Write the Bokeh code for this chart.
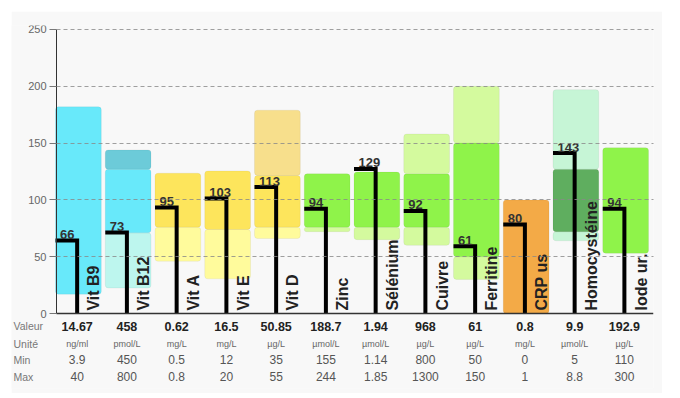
import math
from bokeh.plotting import figure
from bokeh.models import Range1d, FixedTicker, Label, ColumnDataSource
from bokeh.core.properties import value
from bokeh.embed import file_html
from bokeh.resources import INLINE

# ---------------- data ----------------
categories = ["Vit B9", "Vit B12", "Vit A", "Vit E", "Vit D", "Zinc", "Sélénium",
              "Cuivre", "Ferritine", "CRP us", "Homocystéine", "Iode ur."]
scores = [66, 73, 95, 103, 113, 94, 129, 92, 61, 80, 143, 94]
valeur = ["14.67", "458", "0.62", "16.5", "50.85", "188.7", "1.94", "968", "61", "0.8", "9.9", "192.9"]
unite = ["ng/ml", "pmol/L", "mg/L", "mg/L", "µg/L", "µmol/L", "µmol/L", "µg/L", "µg/L", "mg/L", "µmol/L", "µg/L"]
min_vals = ["3.9", "450", "0.5", "12", "35", "155", "1.14", "800", "50", "0", "5", "110"]
max_vals = ["40", "800", "0.8", "20", "55", "244", "1.85", "1300", "150", "1", "8.8", "300"]
row_names = ["Valeur", "Unité", "Min", "Max"]
y_ticks = [0, 50, 100, 150, 200, 250]

# zone bands (category index, bottom, top, colour)
band_cat = [0, 1, 1, 1, 2, 2, 3, 3, 4, 4, 4, 5, 5, 6, 6, 7, 7, 7, 8, 8, 8, 9, 10, 10, 10, 11]
band_bottom = [17, 22.5, 71, 127, 46, 76, 30.5, 74, 66, 76, 121.5, 72, 76, 65, 76, 60, 76, 123,
               30, 50, 150, 0, 64, 72, 127, 53]
band_top = [182, 71, 127, 144, 76, 123.5, 74, 125.5, 76, 121.5, 179, 76, 123, 76, 124.5, 76, 123, 158,
            50, 150, 200, 100, 72, 127, 197, 146]
CYAN, AQUA, TEAL = "#68e9fa", "#bdf6ee", "#6ccbd9"
YEL, LYEL, TAN = "#fde55c", "#fffb9c", "#f7df8c"
GRN, LGRN = "#8ff34a", "#d4fa9e"
ORG, MINT, DGRN = "#f3aa47", "#c6f5d6", "#5fae5f"
band_color = [CYAN, AQUA, CYAN, TEAL, LYEL, YEL, LYEL, YEL, LYEL, YEL, TAN, LGRN, GRN, LGRN, GRN,
              LGRN, GRN, LGRN, LGRN, GRN, LGRN, ORG, MINT, DGRN, MINT, GRN]

# ---------------- layout constants ----------------
N = len(categories)
BAND_L, BAND_R = -0.02, 0.9
STEM = 0.415
LINE_HALF = 1.7
row_y = [-11.4, -26.6, -40.5, -55.5]
FONT = "Liberation Sans"
X_LEFT = -45 / 49.75  # room for the row labels and y tick labels inside the frame

p = figure(width=651, height=382, output_backend="svg", toolbar_location=None,
           x_range=Range1d(X_LEFT, N), y_range=Range1d(-66, 253.5),
           min_border_left=0, min_border_right=9, min_border_top=14, min_border_bottom=5,
           background_fill_color="#f8f8f8", border_fill_color="#f8f8f8",
           outline_line_color=None)
p.margin = (11, 0, 0, 11)

# bands
bsrc = ColumnDataSource(dict(
    left=[c + BAND_L for c in band_cat], right=[c + BAND_R for c in band_cat],
    bottom=band_bottom, top=band_top, color=band_color))
p.quad(left="left", right="right", bottom="bottom", top="top", fill_color="color",
       line_color="#000000", line_alpha=0.05, border_radius=3, source=bsrc)

# markers
xs = [[i + BAND_L, i + STEM, i + STEM] for i in range(N)]
ys = [[s - LINE_HALF, s - LINE_HALF, 0] for s in scores]
p.multi_line(xs=xs, ys=ys, line_color="#000000", line_width=4, line_join="miter")

# score labels
p.text(x=[i + 0.07 for i in range(N)], y=scores, text=[str(s) for s in scores],
       text_baseline="alphabetic", text_align="left", y_offset=-4,
       text_font=value(FONT), text_font_style="bold", text_font_size="13px", text_color="#333333")

# category labels (rotated)
p.text(x=[i + 0.75 for i in range(N)], y=[2.6] * N, text=categories,
       angle=math.pi / 2, text_align="left", text_baseline="middle",
       text_font=value(FONT), text_font_style="bold", text_font_size="16px", text_color="#222222")

# table
cx = [i + STEM for i in range(N)]
p.text(x=cx, y=[row_y[0]] * N, text=valeur, text_align="center", text_baseline="middle",
       text_font=value(FONT), text_font_style="bold", text_font_size="12.5px", text_color="#222222")
p.text(x=cx, y=[row_y[1]] * N, text=unite, text_align="center", text_baseline="middle",
       text_font=value(FONT), text_font_size="9px", text_color="#666666")
p.text(x=cx, y=[row_y[2]] * N, text=min_vals, text_align="center", text_baseline="middle",
       text_font=value(FONT), text_font_size="12px", text_color="#555555")
p.text(x=cx, y=[row_y[3]] * N, text=max_vals, text_align="center", text_baseline="middle",
       text_font=value(FONT), text_font_size="12px", text_color="#555555")
for name, yy in zip(row_names, row_y):
    p.add_layout(Label(x=2, y=yy, x_units="screen", y_units="data", text=name,
                       text_baseline="middle", text_font=FONT, text_font_size="10.5px",
                       text_color="#777777"))

# x axis used as the baseline at 0
p.xaxis.fixed_location = 0
p.xaxis.bounds = (0, N)
p.xaxis.ticker = FixedTicker(ticks=[])
p.xaxis.axis_line_color = "#333333"
p.xaxis.axis_line_width = 1.5
p.xaxis.major_label_text_font_size = "0px"
p.xaxis.major_tick_line_color = None
p.xaxis.minor_tick_line_color = None
p.xgrid.visible = False

# y axis at x = 0
p.yaxis.fixed_location = 0
p.yaxis.ticker = FixedTicker(ticks=y_ticks)
p.yaxis.bounds = (0, 250)
p.yaxis.axis_line_color = "#333333"
p.yaxis.major_tick_line_color = "#777777"
p.yaxis.major_tick_out = 7
p.yaxis.major_tick_in = 0
p.yaxis.minor_tick_line_color = None
p.yaxis.major_label_text_font = FONT
p.yaxis.major_label_text_font_size = "11px"
p.yaxis.major_label_text_color = "#666666"
p.yaxis.major_label_standoff = 3

# dashed grid drawn over the bands, only right of the y axis
p.ygrid.ticker = FixedTicker(ticks=y_ticks[1:])
p.ygrid.cross_bounds = (0, N)
p.ygrid.grid_line_color = "#888888"
p.ygrid.grid_line_alpha = 0.8
p.ygrid.grid_line_dash = "4 3"
p.ygrid.level = "annotation"

open("out.html", "w").write(file_html(p, INLINE))
